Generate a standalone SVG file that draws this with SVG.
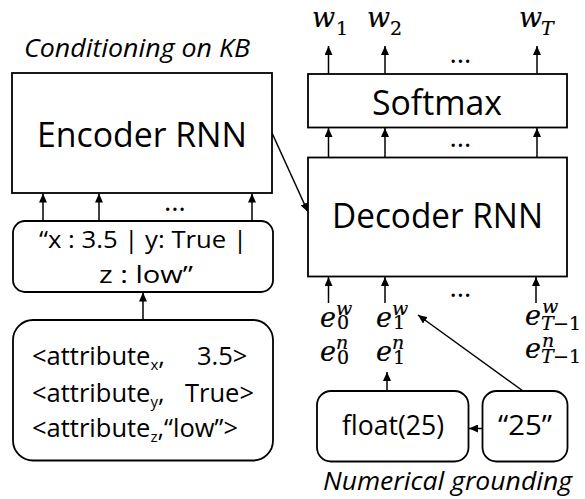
<svg xmlns="http://www.w3.org/2000/svg" width="585" height="499" viewBox="0 0 585 499">
<style>
.box{fill:#fff;stroke:#000;stroke-width:1.8}
.t{font-family:"Open Sans","Liberation Sans",Arial,sans-serif;fill:#000}
.it{font-family:"Open Sans","Liberation Sans",Arial,sans-serif;font-style:italic;fill:#000}
.m{font-family:"DejaVu Serif",serif;font-style:italic;fill:#000;font-size:27px;stroke:#000;stroke-width:0.2}
.s{font-size:19px}
.up{font-style:normal}
.arr{stroke:#000;stroke-width:1.5;fill:none;marker-end:url(#ah)}
</style>
<defs>
<marker id="ah" markerUnits="userSpaceOnUse" markerWidth="10" markerHeight="8" refX="9" refY="4" orient="auto">
<path d="M0,0 L9,4 L0,8 z" fill="#000"/>
</marker>
</defs>
<rect width="585" height="499" fill="#fff"/>

<text class="it" x="24" y="57" font-size="26" textLength="226" lengthAdjust="spacingAndGlyphs">Conditioning on KB</text>
<text class="it" x="323" y="490" font-size="26" textLength="249" lengthAdjust="spacingAndGlyphs">Numerical grounding</text>

<g id="encoder">
<rect class="box" x="12" y="73" width="260" height="120"/>
<text class="t" x="37" y="146.5" font-size="34" textLength="210" lengthAdjust="spacingAndGlyphs">Encoder RNN</text>
</g>

<g id="string">
<rect class="box" x="13" y="221" width="260" height="71" rx="12"/>
<text class="t" x="39" y="248" font-size="24" textLength="208" lengthAdjust="spacingAndGlyphs">“x : 3.5 | y: True |</text>
<text class="t" x="99" y="283" font-size="24" textLength="94" lengthAdjust="spacingAndGlyphs">z : low”</text>
</g>

<g id="attributes">
<rect class="box" x="13" y="320" width="260" height="140.5" rx="20"/>
<text class="t" x="32" y="365" font-size="25.5">&lt;attribute<tspan font-size="15" dy="5">x</tspan><tspan dy="-5">,</tspan><tspan x="197">3.5&gt;</tspan></text>
<text class="t" x="32" y="401.5" font-size="25.5">&lt;attribute<tspan font-size="15" dy="5">y</tspan><tspan dy="-5">,</tspan><tspan x="185">True&gt;</tspan></text>
<text class="t" x="32" y="436.5" font-size="25.5">&lt;attribute<tspan font-size="15" dy="5">z</tspan><tspan dy="-5">,“low”&gt;</tspan></text>
</g>

<g id="softmax">
<rect class="box" x="308" y="74" width="259" height="53.5"/>
<text class="t" x="372" y="114.5" font-size="34" textLength="130" lengthAdjust="spacingAndGlyphs">Softmax</text>
</g>

<g id="decoder">
<rect class="box" x="308" y="157.5" width="259" height="119"/>
<text class="t" x="332" y="228" font-size="34" textLength="211" lengthAdjust="spacingAndGlyphs">Decoder RNN</text>
</g>

<g id="float">
<rect class="box" x="317" y="391" width="151.5" height="70.5" rx="14"/>
<text class="t" x="342" y="435" font-size="27" textLength="102" lengthAdjust="spacingAndGlyphs">float(25)</text>
</g>

<g id="str25">
<rect class="box" x="482.5" y="391" width="85" height="70.5" rx="14"/>
<text class="t" x="498" y="435" font-size="28" textLength="54" lengthAdjust="spacingAndGlyphs">“25”</text>
</g>

<g id="outputs">
<text class="m" x="312" y="27">w<tspan class="s up" x="336" y="34.5">1</tspan></text>
<text class="m" x="367" y="27">w<tspan class="s up" x="390" y="34.5">2</tspan></text>
<text class="m" x="519" y="27">w<tspan class="s" x="541" y="34.5">T</tspan></text>
</g>

<g id="inputs">
<text class="m" x="320" y="326.5">e<tspan class="s" x="336" y="314.5">w</tspan><tspan class="s up" x="337" y="328.5">0</tspan></text>
<text class="m" x="320" y="360.5">e<tspan class="s" x="336" y="349">n</tspan><tspan class="s up" x="337" y="363.5">0</tspan></text>
<text class="m" x="376" y="326.5">e<tspan class="s" x="392" y="314.5">w</tspan><tspan class="s up" x="393" y="328.5">1</tspan></text>
<text class="m" x="376" y="360.5">e<tspan class="s" x="392" y="349">n</tspan><tspan class="s up" x="393" y="363.5">1</tspan></text>
<text class="m" x="525" y="325">e<tspan class="s" x="542" y="313">w</tspan><tspan class="s" x="541" y="329.5">T</tspan><tspan class="s up" x="553" y="329.5">−1</tspan></text>
<text class="m" x="525" y="358">e<tspan class="s" x="542" y="346.5">n</tspan><tspan class="s" x="541" y="362.5">T</tspan><tspan class="s up" x="553" y="362.5">−1</tspan></text>
</g>

<g id="dots" class="t" font-size="28" text-anchor="middle">
<text x="175" y="211">…</text>
<text x="460.5" y="63">…</text>
<text x="460.5" y="147">…</text>
<text x="460.5" y="297">…</text>
</g>

<g id="connectors">
<line class="arr" x1="328.5" y1="74" x2="328.5" y2="46"/>
<line class="arr" x1="385" y1="74" x2="385" y2="46"/>
<line class="arr" x1="537" y1="74" x2="537" y2="46"/>
<line class="arr" x1="328.5" y1="157.5" x2="328.5" y2="128"/>
<line class="arr" x1="385" y1="157.5" x2="385" y2="128"/>
<line class="arr" x1="537" y1="157.5" x2="537" y2="128"/>
<line class="arr" x1="328.5" y1="303" x2="328.5" y2="277"/>
<line class="arr" x1="385" y1="303" x2="385" y2="277"/>
<line class="arr" x1="536" y1="303" x2="536" y2="277"/>
<line class="arr" x1="43" y1="221" x2="43" y2="193.5"/>
<line class="arr" x1="99" y1="221" x2="99" y2="193.5"/>
<line class="arr" x1="252" y1="221" x2="252" y2="193.5"/>
<line class="arr" x1="143" y1="320" x2="143" y2="292.5"/>
<line class="arr" x1="387" y1="391" x2="387" y2="372"/>
<line class="arr" x1="482.5" y1="428.5" x2="469" y2="428.5"/>
<line class="arr" x1="523" y1="391" x2="418" y2="315"/>
<line class="arr" x1="272" y1="133" x2="308" y2="212"/>
</g>
</svg>
